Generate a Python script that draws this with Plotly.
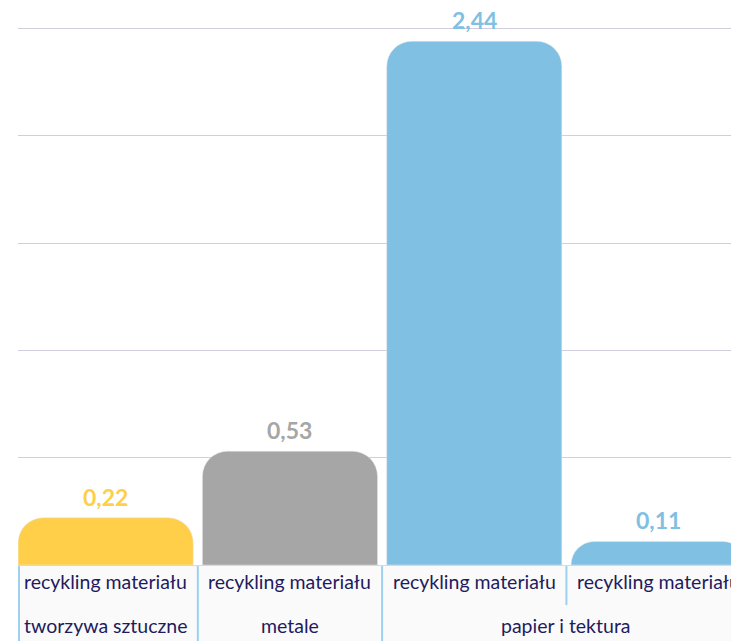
import plotly.graph_objects as go

categories = ["recykling materiału"] * 4
groups = ["tworzywa sztuczne", "metale", "papier i tektura"]
group_pos = [0, 1, 2.5]
values = [0.22, 0.53, 2.44, 0.11]
labels = ["0,22", "0,53", "2,44", "0,11"]
colors = ["#FFCF4A", "#A6A6A6", "#80C0E3", "#80C0E3"]

x = list(range(len(values)))

fig = go.Figure()
fig.add_trace(go.Bar(
    x=x, y=values, width=0.95,
    marker=dict(color=colors, line=dict(color="#e6e6e6", width=0.5)),
    hoverinfo="skip",
))

txt_color = "#1F1B5E"
annotations = []
for xi, v, lab, col in zip(x, values, labels, colors):
    annotations.append(dict(x=xi, y=v, xref="x", yref="y", text=lab, showarrow=False,
                            yanchor="bottom", yshift=5,
                            font=dict(family="Lato", size=23, color=col, weight="bold")))
for i, c in enumerate(categories):
    annotations.append(dict(x=i, y=-0.0313, xref="x", yref="paper", text=c,
                            showarrow=False, yanchor="middle",
                            font=dict(family="Lato", size=19.5, color=txt_color)))
for g, p in zip(groups, group_pos):
    annotations.append(dict(x=p, y=-0.1105, xref="x", yref="paper", text=g,
                            showarrow=False, yanchor="middle",
                            font=dict(family="Lato", size=19.5, color=txt_color)))

shapes = [
    dict(type="rect", xref="x", yref="paper", x0=-0.475, x1=3.6, y0=-0.002, y1=-0.145,
         fillcolor="#FAFAFA", line=dict(width=0), layer="below"),
]
div_color = "#9DD0EE"
for b in [-0.47, 0.5, 1.5]:
    shapes.append(dict(type="line", xref="x", yref="paper", x0=b, x1=b, y0=-0.002, y1=-0.145,
                       line=dict(color=div_color, width=2)))
shapes.append(dict(type="line", xref="x", yref="paper", x0=2.5, x1=2.5, y0=-0.002, y1=-0.0737,
                   line=dict(color=div_color, width=2)))

fig.update_layout(
    width=731, height=641,
    margin=dict(l=18, r=0, t=22, b=76),
    paper_bgcolor="white", plot_bgcolor="white",
    barcornerradius=25,
    showlegend=False,
    xaxis=dict(range=[-0.4756, 3.393], showticklabels=False, showgrid=False,
               zeroline=False, showline=True, linecolor="#D9D9D9", linewidth=1,
               fixedrange=True),
    yaxis=dict(range=[0, 2.53], tickvals=[0.5, 1.0, 1.5, 2.0, 2.5], showticklabels=False,
               showgrid=True, gridcolor="#D3CCDD", gridwidth=1, zeroline=False,
               fixedrange=True),
    annotations=annotations,
    shapes=shapes,
)

fig.write_html("out.html", config={"displayModeBar": False},
               post_script="document.body.style.margin='0';document.body.style.overflow='hidden';")
